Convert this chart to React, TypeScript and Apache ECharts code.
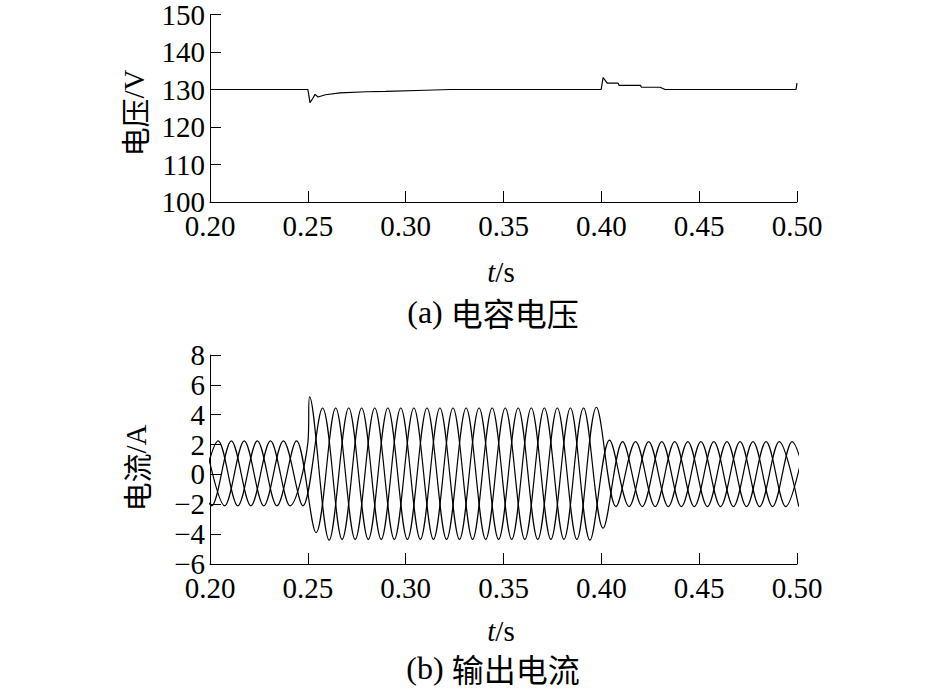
import React, { useEffect, useRef } from "react";
import * as echarts from "echarts";

const xTicks = { min: 0.2, max: 0.5, step: 0.05 };
const voltTicks = { min: 100, max: 150, step: 10 };
const currTicks = { min: -6, max: 8, step: 2 };

// capacitor voltage (t, V)
const voltage: [number, number][] = [
  [0.2, 130], [0.25, 130], [0.2505, 128.5], [0.2511, 126.5], [0.2525, 127.6],
  [0.2537, 128.7], [0.2552, 128.0], [0.259, 128.6], [0.2665, 129.1], [0.28, 129.4],
  [0.29, 129.5], [0.31, 129.8], [0.323, 130], [0.3999, 130], [0.4009, 133.2],
  [0.403, 131.7], [0.4086, 131.7], [0.409, 131.1], [0.42, 131.1], [0.4205, 130.6],
  [0.43, 130.6], [0.4326, 130], [0.4995, 130], [0.5, 131.7],
];

// output currents: extrema (t, A)
const phaseA: [number, number][] = [
  [0.1942, -2.1], [0.2042, 2.25], [0.2142, -2.1], [0.2242, 2.25], [0.2342, -2.1],
  [0.2442, 2.25], [0.2542, -3.9], [0.2642, 4.45], [0.2742, -4.35], [0.2842, 4.45],
  [0.2942, -4.35], [0.3042, 4.45], [0.3142, -4.35], [0.3242, 4.45], [0.3342, -4.35],
  [0.3442, 4.45], [0.3542, -4.35], [0.3642, 4.45], [0.3742, -4.35], [0.3842, 4.45],
  [0.3942, -4.4], [0.4042, 2.3], [0.4142, -2.15], [0.4242, 2.2], [0.4342, -2.15],
  [0.4442, 2.2], [0.4542, -2.15], [0.4642, 2.2], [0.4742, -2.15], [0.4842, 2.2],
  [0.4942, -2.15], [0.5042, 2.2],
];
const phaseB: [number, number][] = [
  [0.1909, 2.25], [0.2009, -2.1], [0.2109, 2.25], [0.2209, -2.1], [0.2309, 2.25],
  [0.2409, -2.1], [0.25, 2.1], [0.2509, 5.2], [0.2609, -4.4], [0.2709, 4.45],
  [0.2809, -4.35], [0.2909, 4.45], [0.3009, -4.35], [0.3109, 4.45], [0.3209, -4.35],
  [0.3309, 4.45], [0.3409, -4.35], [0.3509, 4.45], [0.3609, -4.35], [0.3709, 4.45],
  [0.3809, -4.35], [0.3909, 4.45], [0.4009, -3.6], [0.4109, 2.2], [0.4209, -2.15],
  [0.4309, 2.2], [0.4409, -2.15], [0.4509, 2.2], [0.4609, -2.15], [0.4709, 2.2],
  [0.4809, -2.15], [0.4909, 2.2], [0.5009, -2.15],
];
const phaseC: [number, number][] = [
  [0.1975, 2.25], [0.2075, -2.1], [0.2175, 2.25], [0.2275, -2.1], [0.2375, 2.25],
  [0.2475, -2.1], [0.2575, 4.45], [0.2675, -4.35], [0.2775, 4.45], [0.2875, -4.35],
  [0.2975, 4.45], [0.3075, -4.35], [0.3175, 4.45], [0.3275, -4.35], [0.3375, 4.45],
  [0.3475, -4.35], [0.3575, 4.45], [0.3675, -4.35], [0.3775, 4.45], [0.3875, -4.35],
  [0.3975, 4.5], [0.4075, -2.15], [0.4175, 2.2], [0.4275, -2.15], [0.4375, 2.2],
  [0.4475, -2.15], [0.4575, 2.2], [0.4675, -2.15], [0.4775, 2.2], [0.4875, -2.15],
  [0.4975, 2.2], [0.5075, -2.15],
];

const SERIF = "Liberation Serif";
const CJK = "Noto Sans CJK SC";
const FS = 29;

export default function App() {
  const ref = useRef<HTMLDivElement>(null);
  useEffect(() => {
    if (!ref.current) return;
    const chart = echarts.init(ref.current, undefined, { renderer: "svg" });
    const axisCommon = {
      axisTick: { show: true, inside: true, length: 11, lineStyle: { color: "#000", width: 1 } },
      splitLine: { show: false },
    };
    const xAxis = (gi: number) => ({
      type: "value",
      gridIndex: gi,
      min: xTicks.min,
      max: xTicks.max,
      interval: xTicks.step,
      ...axisCommon,
      axisLine: { show: true, onZero: false, lineStyle: { color: "#000", width: 1 } },
      axisLabel: {
        color: "#000",
        fontFamily: SERIF,
        fontSize: FS,
        margin: 9,
        formatter: (v: number) => v.toFixed(2),
      },
    });
    const yAxis = (gi: number, t: { min: number; max: number; step: number }) => ({
      type: "value",
      gridIndex: gi,
      min: t.min,
      max: t.max,
      interval: t.step,
      ...axisCommon,
      axisLine: { show: true, onZero: false, lineStyle: { color: "#000", width: 1 } },
      axisLabel: {
        color: "#000",
        fontFamily: SERIF,
        fontSize: FS,
        margin: 5,
        formatter: (v: number) => String(v).replace("-", "\u2212"),
      },
    });
    const lineSeries = (data: [number, number][], xi: number, smooth: number | boolean) => ({
      type: "line",
      xAxisIndex: xi,
      yAxisIndex: xi,
      data,
      showSymbol: false,
      symbol: "none",
      smooth,
      lineStyle: { color: "#000", width: 1.2 },
      clip: true,
    });
    const richTs = {
      i: { fontFamily: SERIF, fontStyle: "italic", fontSize: FS, fill: "#000" },
      n: { fontFamily: SERIF, fontSize: FS, fill: "#000" },
      c: { fontFamily: CJK, fontSize: 29, fill: "#000" },
    };
    const richCap = {
      n: { fontFamily: SERIF, fontSize: 32, fill: "#000" },
      c: { fontFamily: CJK, fontSize: 32, fill: "#000" },
    };
    const caption = (x: number, y: number, rich: any, text: string) => ({
      type: "text",
      x,
      y,
      style: { text, rich, align: "center", verticalAlign: "middle", fill: "#000" },
    });
    chart.setOption({
      animation: false,
      backgroundColor: "#fff",
      grid: [
        { left: 210, top: 11, width: 587, height: 191, containLabel: false },
        { left: 210, top: 355, width: 587, height: 209, containLabel: false },
      ],
      xAxis: [xAxis(0), xAxis(1)],
      yAxis: [yAxis(0, voltTicks), yAxis(1, currTicks)],
      series: [
        lineSeries(voltage, 0, false),
        lineSeries(phaseA, 1, 0.333),
        lineSeries(phaseB, 1, 0.333),
        lineSeries(phaseC, 1, 0.333),
      ],
      graphic: [
        caption(501, 272, richTs, "{i|t}{n|/s}"),
        caption(493, 312, richCap, "{n|(a) }{c|电容电压}"),
        caption(501, 631, richTs, "{i|t}{n|/s}"),
        caption(493, 668, richCap, "{n|(b) }{c|输出电流}"),
        {
          type: "text",
          x: 134,
          y: 113,
          rotation: Math.PI / 2,
          style: { text: "{c|电压}{n|/V}", rich: richTs, align: "center", verticalAlign: "middle" },
        },
        {
          type: "text",
          x: 136,
          y: 468,
          rotation: Math.PI / 2,
          style: { text: "{c|电流}{n|/A}", rich: richTs, align: "center", verticalAlign: "middle" },
        },
      ],
    });
    return () => chart.dispose();
  }, []);
  return (
    <div
      ref={ref}
      style={{ position: "fixed", left: 0, top: 0, width: 944, height: 694, background: "#fff" }}
    />
  );
}
